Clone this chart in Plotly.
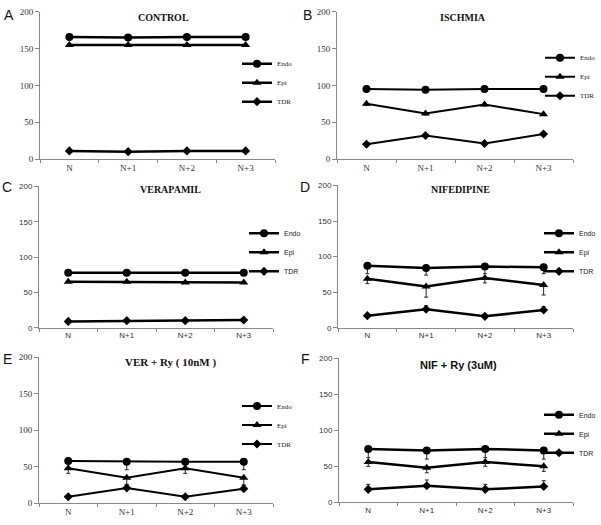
import plotly.graph_objects as go

categories = ["N", "N+1", "N+2", "N+3"]
y_ticks = [0, 50, 100, 150, 200]

panel_letters = ["A", "B", "C", "D", "E", "F"]
panel_titles = ["CONTROL", "ISCHMIA", "VERAPAMIL", "NIFEDIPINE", "VER + Ry ( 10nM )", "NIF + Ry (3uM)"]

endo_A = [166, 165, 166, 166]
epi_A = [155, 155, 155, 155]
tdr_A = [11, 10, 11, 11]

endo_B = [95, 94, 95, 95]
epi_B = [75, 62, 74, 61]
tdr_B = [20, 32, 21, 34]

endo_C = [78, 78, 78, 78]
epi_C = [65, 65, 64, 64]
tdr_C = [9, 10, 10, 11]

endo_D = [87, 84, 86, 85]
epi_D = [69, 58, 70, 60]
tdr_D = [17, 26, 16, 25]

endo_E = [58, 57, 57, 57]
epi_E = [48, 35, 48, 35]
tdr_E = [9, 21, 9, 20]

endo_F = [74, 72, 74, 72]
epi_F = [56, 48, 56, 50]
tdr_F = [18, 23, 18, 22]

# error bars (Endo/Epi downward, TDR upward)
endo_err_A = [0, 0, 0, 0]
epi_err_A = [0, 0, 0, 0]
tdr_err_A = [0, 0, 0, 0]
endo_err_B = [3, 3, 3, 3]
epi_err_B = [2, 2, 2, 2]
tdr_err_B = [0, 0, 0, 0]
endo_err_C = [0, 0, 0, 0]
epi_err_C = [0, 0, 0, 0]
tdr_err_C = [0, 0, 0, 0]
endo_err_D = [11, 10, 10, 9]
epi_err_D = [7, 15, 7, 14]
tdr_err_D = [2, 5, 2, 5]
endo_err_E = [2, 11, 10, 11]
epi_err_E = [7, 10, 7, 10]
tdr_err_E = [0, 5, 0, 5]
endo_err_F = [12, 12, 12, 12]
epi_err_F = [6, 7, 6, 7]
tdr_err_F = [7, 8, 7, 8]

endo_all = [endo_A, endo_B, endo_C, endo_D, endo_E, endo_F]
epi_all = [epi_A, epi_B, epi_C, epi_D, epi_E, epi_F]
tdr_all = [tdr_A, tdr_B, tdr_C, tdr_D, tdr_E, tdr_F]
endo_err = [endo_err_A, endo_err_B, endo_err_C, endo_err_D, endo_err_E, endo_err_F]
epi_err = [epi_err_A, epi_err_B, epi_err_C, epi_err_D, epi_err_E, epi_err_F]
tdr_err = [tdr_err_A, tdr_err_B, tdr_err_C, tdr_err_D, tdr_err_E, tdr_err_F]

W, H = 601, 525
# pixel boxes: (left, right, top, bottom)
boxes = [
    (40, 275, 7, 157),
    (337, 573, 7, 157),
    (39, 273, 185, 329),
    (338, 573, 184, 329),
    (39, 273, 359, 508),
    (339, 573, 360, 507),
]
serif_panels = [True, True, False, False, True, False]
title_fonts = ["Liberation Serif"] * 5 + ["Liberation Sans"]
title_sizes = [10, 10, 10, 10, 11, 11]
title_pos = [(163, 13), (463, 13), (170, 188), (460, 188), (170, 364), (458, 367)]
letter_pos = [(9, 10), (307, 10), (7, 186), (305, 186), (7, 361), (305, 361)]
# legend: (legend-left x or None for right-anchored, first item center y)
legend_pos = [(237, 63), (None, 57), (244, 236), (None, 236), (237, 412), (None, 421)]

fig = go.Figure()
line_w = [2.5, 2, 2.5, 2.5, 2, 2.5]

for i in range(6):
    ax = "" if i == 0 else str(i + 1)
    leg = "legend" if i == 0 else f"legend{i + 1}"
    specs = [
        ("Endo", endo_all[i], endo_err[i], "circle", 8, "down"),
        ("Epi", epi_all[i], epi_err[i], "triangle-up", 8, "down"),
        ("TDR", tdr_all[i], tdr_err[i], "diamond", 7, "up"),
    ]
    for name, vals, err, sym, ms, direction in specs:
        zeros = [0] * len(err)
        fig.add_trace(go.Scatter(
            x=categories, y=vals, name=name, mode="lines+markers",
            line=dict(color="black", width=line_w[i]),
            marker=dict(symbol=sym, size=ms, color="black"),
            error_y=dict(type="data", symmetric=False,
                         array=err if direction == "up" else zeros,
                         arrayminus=err if direction == "down" else zeros,
                         color="#222", thickness=1, width=2, visible=any(e > 0 for e in err)),
            xaxis="x" + ax, yaxis="y" + ax, legend=leg,
        ))

    l, r, t, b = boxes[i]
    tick_font = dict(family="Liberation Serif" if serif_panels[i] else "Liberation Sans",
                     size=9 if serif_panels[i] else 8, color="#333")
    fig.layout["xaxis" + ax] = dict(
        domain=[l / W, r / W], anchor="y" + ax, type="category",
        range=[-0.5, 3.5], showline=True, linecolor="#888", linewidth=1,
        ticks="outside", ticklen=3, tickcolor="#888", tickson="boundaries",
        showgrid=False, zeroline=False, tickfont=tick_font, fixedrange=True,
    )
    fig.layout["yaxis" + ax] = dict(
        domain=[1 - b / H, 1 - t / H], anchor="x" + ax,
        range=[0, 200], tickvals=y_ticks, showline=True, linecolor="#888", linewidth=1,
        ticks="outside", ticklen=4, tickcolor="#888",
        showgrid=False, zeroline=False, tickfont=tick_font, fixedrange=True,
    )
    lx, ly = legend_pos[i]
    legend_font = dict(family="Liberation Serif" if serif_panels[i] else "Liberation Sans", size=7, color="#222")
    if lx is None:
        xpos, xanc = 1.0, "right"
    else:
        xpos, xanc = lx / W, "left"
    fig.layout[leg] = dict(
        x=xpos, y=1 - (ly - 18) / H, xanchor=xanc, yanchor="top",
        xref="paper", yref="paper",
        font=legend_font,
        bgcolor="rgba(0,0,0,0)", itemwidth=30, tracegroupgap=0,
        borderwidth=0,
    )
    tx, ty = title_pos[i]
    fig.add_annotation(
        x=tx / W, y=1 - ty / H, xref="paper", yref="paper", text=f"<b>{panel_titles[i]}</b>",
        showarrow=False, xanchor="center", yanchor="middle",
        font=dict(family=title_fonts[i], size=title_sizes[i], color="#111"),
    )
    px, py = letter_pos[i]
    fig.add_annotation(
        x=px / W, y=1 - py / H, xref="paper", yref="paper", text=panel_letters[i],
        showarrow=False, xanchor="center", yanchor="middle",
        font=dict(family="Liberation Sans", size=14, color="#111"),
    )

fig.update_layout(
    width=W, height=H, margin=dict(l=0, r=0, t=0, b=0),
    paper_bgcolor="white", plot_bgcolor="white", showlegend=True,
)

fig.write_html("out.html", config={"displayModeBar": False},
               post_script="document.body.style.margin='0px';")
